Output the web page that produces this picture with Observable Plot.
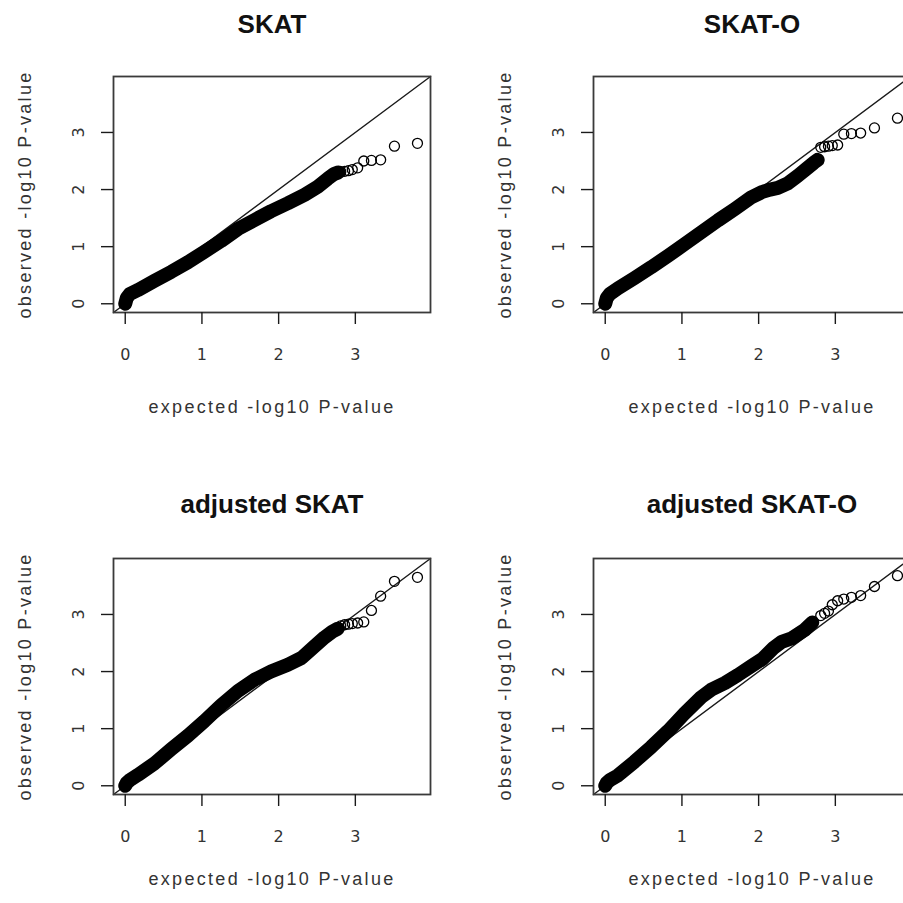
<!DOCTYPE html>
<html>
<head>
<meta charset="utf-8">
<script src="https://cdn.jsdelivr.net/npm/d3@7"></script>
<script src="https://cdn.jsdelivr.net/npm/@observablehq/plot@0.6"></script>
<style>
  html, body { margin: 0; padding: 0; background: #fff; }
  #fig { position: relative; width: 903px; height: 903px; overflow: hidden; background: #fff; }
  .panel { position: absolute; width: 480px; height: 481px; }
  .panel svg { max-width: none !important; width: 480px; height: 481px; }
</style>
</head>
<body>
<div id="fig"></div>
<script>
// ---- data ----
const titles = ["SKAT", "SKAT-O", "adjusted SKAT", "adjusted SKAT-O"];
const xLabel = "expected -log10 P-value";
const yLabel = "observed -log10 P-value";
const axisLimits = [-0.153, 3.98];
const tickValues = [0, 1, 2, 3];

// dense part of each QQ cloud (expected, observed)
const skatBandX = [0, 0.02, 0.06, 0.165, 0.38, 0.6, 0.82, 1.03, 1.25, 1.47, 1.69, 1.9, 2.12, 2.34, 2.51, 2.64, 2.72, 2.78];
const skatBandY = [0, 0.1, 0.17, 0.24, 0.40, 0.56, 0.73, 0.91, 1.10, 1.31, 1.47, 1.62, 1.76, 1.91, 2.05, 2.19, 2.27, 2.30];
const skatoBandX = [0, 0.02, 0.06, 0.165, 0.38, 0.6, 0.82, 1.03, 1.25, 1.47, 1.69, 1.9, 2.05, 2.15, 2.25, 2.38, 2.51, 2.62, 2.72, 2.77];
const skatoBandY = [0, 0.1, 0.17, 0.27, 0.45, 0.64, 0.84, 1.04, 1.25, 1.46, 1.66, 1.86, 1.96, 2.0, 2.03, 2.11, 2.24, 2.36, 2.47, 2.52];
const adjSkatBandX = [0, 0.02, 0.06, 0.165, 0.38, 0.6, 0.82, 1.03, 1.25, 1.47, 1.69, 1.9, 2.12, 2.3, 2.45, 2.6, 2.7, 2.77];
const adjSkatBandY = [0, 0.05, 0.1, 0.19, 0.39, 0.64, 0.88, 1.13, 1.41, 1.66, 1.86, 2.0, 2.12, 2.24, 2.42, 2.6, 2.7, 2.75];
const adjSkatoBandX = [0, 0.02, 0.06, 0.165, 0.38, 0.6, 0.82, 1.03, 1.25, 1.38, 1.56, 1.73, 1.9, 2.05, 2.2, 2.3, 2.43, 2.6, 2.7];
const adjSkatoBandY = [0, 0.05, 0.1, 0.18, 0.42, 0.68, 0.96, 1.26, 1.55, 1.68, 1.80, 1.94, 2.09, 2.22, 2.42, 2.52, 2.58, 2.73, 2.86];

// ten most extreme points of each panel
const tailX = [2.81, 2.86, 2.91, 2.96, 3.03, 3.11, 3.21, 3.33, 3.51, 3.81];
const skatTailY = [2.31, 2.32, 2.33, 2.35, 2.38, 2.50, 2.51, 2.52, 2.76, 2.81];
const skatoTailY = [2.74, 2.75, 2.76, 2.77, 2.78, 2.97, 2.98, 2.99, 3.08, 3.25];
const adjSkatTailY = [2.80, 2.82, 2.83, 2.84, 2.85, 2.87, 3.07, 3.32, 3.58, 3.65];
const adjSkatoTailY = [2.98, 3.02, 3.06, 3.17, 3.24, 3.27, 3.30, 3.33, 3.49, 3.68];

const panels = [
  {title: titles[0], bx: skatBandX, by: skatBandY, ty: skatTailY, left: 0, top: 0, titleDy: -44, xlabDy: 100},
  {title: titles[1], bx: skatoBandX, by: skatoBandY, ty: skatoTailY, left: 480, top: 0, titleDy: -44, xlabDy: 100},
  {title: titles[2], bx: adjSkatBandX, by: adjSkatBandY, ty: adjSkatTailY, left: 0, top: 482, titleDy: -46, xlabDy: 90},
  {title: titles[3], bx: adjSkatoBandX, by: adjSkatoBandY, ty: adjSkatoTailY, left: 480, top: 482, titleDy: -46, xlabDy: 90}
];

const ink = "#1a1a1a";
const font = "'Liberation Sans', Arial, Helvetica, sans-serif";
const tickFont = "'DejaVu Sans', 'Liberation Sans', sans-serif";

function makePanel(p) {
  const band = p.bx.map((x, i) => ({x, y: p.by[i]}));
  const tail = tailX.map((x, i) => ({x, y: p.ty[i]}));
  const svg = Plot.plot({
    width: 480,
    height: 481,
    marginLeft: 113,
    marginRight: 50,
    marginTop: 76,
    marginBottom: 169,
    x: {domain: axisLimits},
    y: {domain: axisLimits},
    style: {fontFamily: font, fontSize: "16px", color: ink, background: "#fff", overflow: "visible"},
    marks: [
      Plot.line(axisLimits, {x: d => d, y: d => d, stroke: ink, strokeWidth: 1.4}),
      Plot.line(band, {x: "x", y: "y", stroke: "#000", strokeWidth: 14, strokeLinecap: "round", strokeLinejoin: "round"}),
      Plot.dot(band, {x: "x", y: "y", r: 5, stroke: "#000", strokeWidth: 1.3}),
      Plot.dot(tail, {x: "x", y: "y", r: 5, stroke: "#000", strokeWidth: 1.3}),
      Plot.frame({stroke: "#3a3a3a", strokeWidth: 1.8}),
      Plot.axisX({ticks: tickValues, tickSize: 12, tickFormat: () => "", label: null, stroke: ink, strokeWidth: 1.4}),
      Plot.axisY({ticks: tickValues, tickSize: 12, tickFormat: () => "", label: null, stroke: ink, strokeWidth: 1.4}),
      Plot.text(tickValues, {x: d => d, text: d => String(d), frameAnchor: "bottom", dy: 47,
        lineAnchor: "bottom", textAnchor: "middle", fontSize: 16, fontFamily: tickFont, fill: "#333"}),
      Plot.text(tickValues, {y: d => d, text: d => String(d), frameAnchor: "left", dx: -30, rotate: -90,
        lineAnchor: "bottom", textAnchor: "middle", fontSize: 16, fontFamily: tickFont, fill: "#333"}),
      Plot.text([yLabel], {text: d => d, frameAnchor: "left", dx: -83, rotate: -90, lineAnchor: "bottom",
        textAnchor: "middle", fontSize: 18, fill: "#333"}),
      Plot.text([xLabel], {text: d => d, frameAnchor: "bottom", dy: p.xlabDy, lineAnchor: "bottom",
        textAnchor: "middle", fontSize: 18, fill: "#333"}),
      Plot.text([p.title], {text: d => d, frameAnchor: "top", dy: p.titleDy, lineAnchor: "bottom",
        textAnchor: "middle", fontSize: 26, fontWeight: "bold", fill: "#111"})
    ]
  });
  // widen the axis titles' letter spacing like the reference rendering
  d3.select(svg).selectAll("text").each(function () {
    const t = this.textContent;
    if (t === xLabel || t === yLabel) this.style.letterSpacing = "2.3px";
  });
  return svg;
}

const fig = document.getElementById("fig");
for (const p of panels) {
  const div = document.createElement("div");
  div.className = "panel";
  div.style.left = p.left + "px";
  div.style.top = p.top + "px";
  div.appendChild(makePanel(p));
  fig.appendChild(div);
}
</script>
</body>
</html>
